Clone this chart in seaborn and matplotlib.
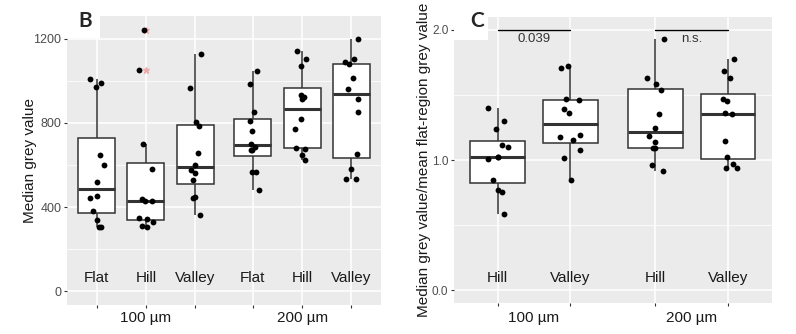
import numpy as np
import pandas as pd
import matplotlib
matplotlib.use("Agg")
import matplotlib.pyplot as plt
import seaborn as sns
from matplotlib.patches import Rectangle
from matplotlib.ticker import FixedLocator

# ---------------- data ----------------
sizes = ["100 µm", "200 µm"]
regions_b = ["Flat", "Hill", "Valley"]
regions_c = ["Hill", "Valley"]

# Panel B: median grey value
b_100_flat = [1010, 990, 970, 648, 600, 520, 452, 441, 382, 338, 305, 303]
b_100_hill = [1241, 1052, 700, 579, 437, 428, 427, 346, 341, 330, 308, 306]
b_100_valley = [1127, 965, 803, 786, 655, 602, 576, 563, 528, 448, 443, 362]
b_200_flat = [1049, 986, 854, 810, 760, 700, 687, 671, 671, 567, 565, 482]
b_200_hill = [1143, 1103, 1071, 932, 925, 916, 817, 770, 680, 676, 648, 624]
b_200_valley = [1200, 1105, 1092, 1080, 1013, 963, 913, 852, 654, 581, 535, 535]

# Panel C: median grey value / mean flat-region grey value
c_100_hill = [1.402, 1.300, 1.236, 1.118, 1.103, 1.026, 1.021, 1.010, 0.844, 0.774, 0.756, 0.587]
c_100_valley = [1.725, 1.705, 1.467, 1.462, 1.390, 1.364, 1.192, 1.177, 1.154, 1.079, 1.015, 0.844]
c_200_hill = [1.928, 1.631, 1.587, 1.536, 1.354, 1.244, 1.185, 1.138, 1.095, 1.095, 0.959, 0.913]
c_200_valley = [1.777, 1.687, 1.633, 1.469, 1.451, 1.362, 1.351, 1.146, 1.021, 0.972, 0.941, 0.936]

c_pvalues = ["0.039", "n.s."]

b_yticks = [0, 400, 800, 1200]
c_yticks = [0.0, 1.0, 2.0]
c_yticklabels = ["0.0", "1.0", "2.0"]

# ---------------- layout helpers ----------------
GAP = 0.17


def build(series, regions):
    rows = []
    for gi, size in enumerate(sizes):
        for ri, reg in enumerate(regions):
            pos = gi * (len(regions) + GAP) + ri
            for v in series[gi][ri]:
                rows.append({"size": size, "region": reg, "pos": pos, "value": v})
    return pd.DataFrame(rows)


dfB = build([[b_100_flat, b_100_hill, b_100_valley],
             [b_200_flat, b_200_hill, b_200_valley]], regions_b)
dfC = build([[c_100_hill, c_100_valley],
             [c_200_hill, c_200_valley]], regions_c)

sns.set_theme(style="darkgrid", rc={
    "axes.facecolor": "#EBEBEB",
    "grid.color": "white",
    "axes.edgecolor": "#EBEBEB",
})
plt.rcParams["font.family"] = ["Liberation Sans", "DejaVu Sans"]

W, H = 796, 334
fig = plt.figure(figsize=(W / 100, H / 100), dpi=100)
fig.patch.set_facecolor("white")
axB = fig.add_axes([67 / W, 1 - 305 / H, (381 - 67) / W, (305 - 16) / H])
axC = fig.add_axes([454 / W, 1 - 303.3 / H, (771.7 - 454) / W, (303.3 - 16.7) / H])

LINE = "#333333"


def draw(ax, df, regions, ylim, yticks, yticklabels, minor, cat_y, grp_off, tsize):
    sns.boxplot(data=df, x="pos", y="value", native_scale=True, width=0.75,
                color="white", linecolor=LINE, linewidth=1.1, showcaps=False,
                medianprops=dict(linewidth=2.2, color=LINE),
                flierprops=dict(marker="*", markersize=5,
                                markerfacecolor="#f08080",
                                markeredgecolor="#f08080", alpha=0.5),
                ax=ax, zorder=2)
    np.random.seed(7)
    sns.stripplot(data=df, x="pos", y="value", native_scale=True, jitter=0.15,
                  color="black", size=4.2, linewidth=0, ax=ax, zorder=3)
    positions = sorted(df["pos"].unique())
    ax.set_xlim(positions[0] - 0.6, positions[-1] + 0.6)
    ax.set_ylim(*ylim)
    ax.set_xticks(positions)
    ax.set_xticklabels([""] * len(positions))
    ax.set_yticks(yticks)
    ax.set_yticklabels(yticklabels)
    ax.yaxis.set_minor_locator(FixedLocator(minor))
    ax.grid(which="major", color="white", linewidth=1.1)
    ax.grid(which="minor", axis="y", color="white", linewidth=0.55)
    ax.set_axisbelow(True)
    for s in ax.spines.values():
        s.set_visible(False)
    ax.tick_params(which="major", bottom=True, left=True, length=2.5, width=0.8,
                   color=LINE, labelsize=tsize, labelcolor="#4D4D4D", pad=1.5)
    ax.tick_params(which="minor", length=0)
    ax.set_xlabel("")
    # category labels inside the panel
    for i, p in enumerate(positions):
        ax.text(p, cat_y, regions[i % len(regions)], ha="center", va="baseline",
                fontsize=11, color="#1a1a1a")
    # group labels below the panel
    n = len(regions)
    for gi, size in enumerate(sizes):
        center = np.mean(positions[gi * n:(gi + 1) * n])
        ax.annotate(size, xy=(center, 0), xycoords=("data", "axes fraction"),
                    xytext=(0, -grp_off), textcoords="offset points",
                    ha="center", va="baseline", fontsize=11, color="#1a1a1a",
                    annotation_clip=False)
    return positions


draw(axB, dfB, regions_b, (-66, 1309), b_yticks, [str(t) for t in b_yticks],
     [200, 600, 1000], 45, 12.0, 9)
axB.set_ylabel("Median grey value", fontsize=11, color="#1a1a1a")
axB.yaxis.set_label_coords(-0.094, 0.5)

posC = draw(axC, dfC, regions_c, (-0.1, 2.102), c_yticks, c_yticklabels,
            [0.5, 1.5], 0.06, 13.2, 8.5)
axC.set_ylabel("Median grey value/mean flat-region grey value", fontsize=11,
               color="#1a1a1a")
axC.yaxis.set_label_coords(-0.071, 0.5)

# significance bars
sig_y = 2.0
for gi, ptxt in enumerate(c_pvalues):
    p0, p1 = posC[gi * 2], posC[gi * 2 + 1]
    axC.plot([p0, p1], [sig_y, sig_y], color="black", linewidth=1.0, zorder=4)
    axC.annotate(ptxt, xy=((p0 + p1) / 2, sig_y), xytext=(0, -6.3),
                 textcoords="offset points", ha="center", va="center",
                 fontsize=9.5, color="#333333")

# panel letters with white boxes
for (x0, y0, w, h, tx, ty, letter) in [(67, 16, 33, 22, 85, 21, "B"),
                                        (454, 16.7, 34, 23.3, 477, 21, "C")]:
    fig.add_artist(Rectangle((x0 / W, 1 - (y0 + h) / H), w / W, h / H,
                             transform=fig.transFigure, facecolor="white",
                             edgecolor="none", zorder=5))
    fig.text(tx / W, 1 - ty / H, letter, ha="center", va="center",
             fontsize=15, fontweight="bold", family=["Lato", "DejaVu Sans"],
             zorder=6)

fig.savefig("out.png", dpi=100, facecolor="white")
